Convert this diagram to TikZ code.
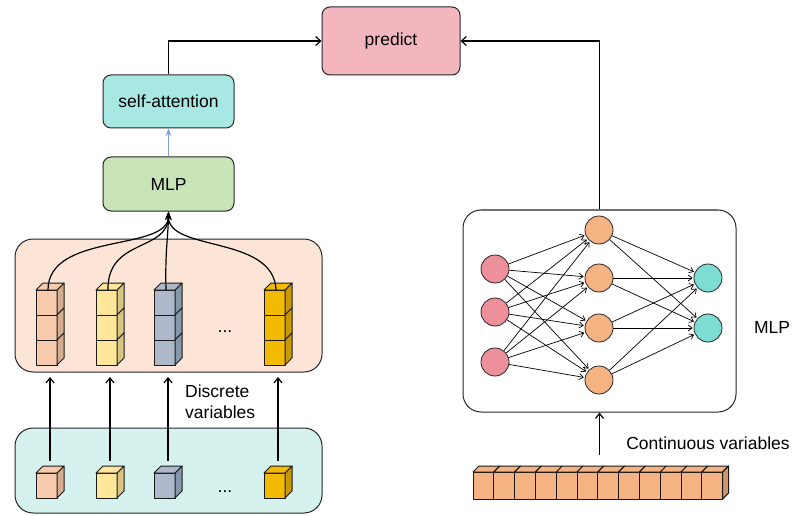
\documentclass[tikz,border=0pt]{standalone}
\usepackage{fontspec}
\setmainfont{Liberation Sans}
\usepackage{tikz}
\usetikzlibrary{arrows.meta, calc, positioning}

\definecolor{cpred}{HTML}{F4B6BE}
\definecolor{cattn}{HTML}{A8E8E3}
\definecolor{cmlp}{HTML}{C9E4B6}
\definecolor{cpanel}{HTML}{FCE5D6}
\definecolor{cbase}{HTML}{D5F2EE}
\definecolor{cpeach}{HTML}{F8CBAD}
\definecolor{cpeachd}{HTML}{D4AC90}
\definecolor{cyel}{HTML}{FFE699}
\definecolor{cyeld}{HTML}{D8C37F}
\definecolor{cgray}{HTML}{ADB9CA}
\definecolor{cgrayd}{HTML}{8797AB}
\definecolor{cgold}{HTML}{F2BA00}
\definecolor{cgoldd}{HTML}{C99A00}
\definecolor{corange}{HTML}{F5B383}
\definecolor{coranged}{HTML}{D2946A}
\definecolor{cin}{HTML}{EE909B}
\definecolor{cout}{HTML}{7DDCD3}
\definecolor{cblue}{HTML}{7F9FE0}

\begin{document}
\begin{tikzpicture}[x=1pt, y=-1pt, >=Stealth,
    box/.style={draw=black!85, line width=1pt, rounded corners=8pt, font=\fontsize{17.5}{21}\selectfont},
    panel/.style={draw=black!85, line width=1pt, rounded corners=18pt},
    cube/.style={draw=black!90, line width=1pt, line join=round},
    neuron/.style={circle, draw=black!85, line width=0.8pt, minimum size=28pt, inner sep=0pt},
    nnedge/.style={-{Straight Barb[length=4pt, width=6pt]}, line width=0.7pt, shorten >=1pt},
    lbl/.style={font=\fontsize{17.5}{21}\selectfont, inner sep=0pt}]
    \useasboundingbox (0,0) rectangle (793,516);

    % boxes on top
    \node[box, fill=cpred, minimum width=138pt, minimum height=68pt] (pred) at (391,41) {predict};
    \node[box, fill=cattn, minimum width=131pt, minimum height=53pt] (attn) at (168.5,101.5) {self-attention};
    \node[box, fill=cmlp, minimum width=131pt, minimum height=54pt] (mlp) at (168.5,184) {MLP};

    % panels
    \node[panel, fill=cpanel, minimum width=307pt, minimum height=133pt] (emb) at (168.5,305.5) {};
    \node[panel, fill=cbase, minimum width=307pt, minimum height=85pt] (base) at (168.5,470.5) {};
    \node[panel, fill=white, minimum width=273pt, minimum height=202pt] (nn) at (599.5,311) {};

    \draw[->, cblue, line width=1pt] (mlp.north) -- (attn.south);
    \draw[-{Straight Barb[length=5pt, width=9pt]}, line width=1.2pt] (attn.north) |- (pred.west);
    \draw[-{Straight Barb[length=5pt, width=9pt]}, line width=1.2pt] (nn.north) |- (pred.east);

    % stacked cubes and single cubes
    \foreach \cx/\fc/\sc [count=\i] in {36/cpeach/cpeachd, 96/cyel/cyeld, 154/cgray/cgrayd, 264/cgold/cgoldd} {
        \foreach \k in {0,1,2} {
            \draw[cube, fill=\fc] (\cx,290+25*\k) rectangle ++(21,25);
            \draw[cube, fill=\sc] (\cx+21,290+25*\k) -- ++(7,-7) -- ++(0,25) -- ++(-7,7) -- cycle;
        }
        \draw[cube, fill=\fc] (\cx,290) -- ++(7,-7) -- ++(21,0) -- ++(-7,7) -- cycle;
        \draw[cube, fill=\fc] (\cx,473) rectangle ++(21,25);
        \draw[cube, fill=\sc] (\cx+21,473) -- ++(7,-7) -- ++(0,25) -- ++(-7,7) -- cycle;
        \draw[cube, fill=\fc] (\cx,473) -- ++(7,-7) -- ++(21,0) -- ++(-7,7) -- cycle;
        \coordinate (top\i) at (\cx+12,290);
        \coordinate (in\i) at (\cx+14,461);
        \coordinate (st\i) at (\cx+14,377);
        \draw[-{Straight Barb[length=5pt, width=8pt]}, line width=1.2pt] (in\i) -- (st\i);
    }
    \node[lbl, anchor=base] (dots1) at (225,332) {...};
    \node[lbl, anchor=base] (dots2) at (225,492) {...};

    \draw[->, line width=1.2pt] (top1) .. controls (48,232) and (168,252) .. (mlp.south);
    \draw[->, line width=1.2pt] (top2) .. controls (107,238) and (168,252) .. (mlp.south);
    \draw[->, line width=1.2pt] (top3) .. controls (165,250) and (168,240) .. (mlp.south);
    \draw[->, line width=1.2pt] (top4) .. controls (274,235) and (168,252) .. (mlp.south);

    \node[lbl, anchor=west, align=left] (disc) at (185,402) {Discrete\\variables};

    % network
    \foreach \y [count=\i] in {269,312,362}
        \node[neuron, fill=cin] (a\i) at (495,\y) {};
    \foreach \y [count=\i] in {230,278,328,380}
        \node[neuron, fill=corange] (h\i) at (599,\y) {};
    \foreach \y [count=\i] in {278,328}
        \node[neuron, fill=cout] (o\i) at (708,\y) {};
    \foreach \i in {1,2,3}
        \foreach \j in {1,...,4}
            \draw[nnedge] (a\i) -- (h\j);
    \foreach \i in {1,...,4}
        \foreach \j in {1,2}
            \draw[nnedge] (h\i) -- (o\j);
    \node[lbl] (mlplbl) at (772,327) {MLP};

    % continuous input bar
    \foreach \j in {0,...,11} {
        \draw[cube, fill=corange] (473+20.8*\j,472) rectangle ++(20.8,27);
        \draw[cube, fill=corange] (473+20.8*\j,472) -- ++(6,-6) -- ++(20.8,0) -- ++(-6,6) -- cycle;
    }
    \draw[cube, fill=coranged] (722.6,472) -- ++(6,-6) -- ++(0,27) -- ++(-6,6) -- cycle;
    \coordinate (bar) at (599.5,455);
    \draw[-{Straight Barb[length=5pt, width=8pt]}, line width=1.2pt] (bar) -- (nn.south);
    \node[lbl] (cont) at (708,443) {Continuous variables};
\end{tikzpicture}
\end{document}
